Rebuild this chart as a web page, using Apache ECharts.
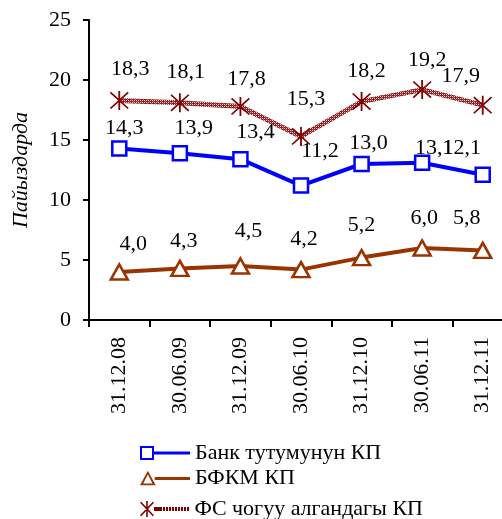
<!DOCTYPE html>
<html>
<head>
<meta charset="utf-8">
<script src="https://cdn.jsdelivr.net/npm/echarts@6/dist/echarts.min.js"></script>
<style>
html,body{margin:0;padding:0;background:#fff;}
#chart{width:502px;height:519px;}
</style>
</head>
<body>
<div id="chart"></div>
<script>
// ---- data ----
const categories = ['31.12.08','30.06.09','31.12.09','30.06.10','31.12.10','30.06.11','31.12.11'];
const seriesNames = ['Банк тутумунун КП','БФКМ КП','ФС чогуу алгандагы КП'];
const bankValues = [14.3, 13.9, 13.4, 11.2, 13.0, 13.1, 12.1];
const bfkmValues = [4.0, 4.3, 4.5, 4.2, 5.2, 6.0, 5.8];
const fsValues = [18.3, 18.1, 17.8, 15.3, 18.2, 19.2, 17.9];
const yTicks = [0, 5, 10, 15, 20, 25];
const yAxisTitle = 'Пайыздарда';

// ---- styles ----
const FONT = 'Liberation Serif';
const FS = 22;
const BLUE = '#0000ff';
const BROWN = '#993300';
const MAROON = '#800000';
const bankLabelOffsets = [[5,-20],[14,-25],[15,-27],[19,-34],[7,-21],[12,-15],[-21,-27]];
const bfkmLabelOffsets = [[14,-28],[4,-27],[8,-35],[3,-30],[0,-32],[2,-30],[-16,-32]];
const fsLabelOffsets = [[11,-31],[6,-31],[6,-27],[5,-37],[5,-30],[5,-29],[-22,-29]];

const STAR = 'path://M-0.9,-10 L0.9,-10 L0.9,10 L-0.9,10 Z M-9.4,-7.9 L-8.2,-9.1 L9.4,7.9 L8.2,9.1 Z M8.2,-9.1 L9.4,-7.9 L-8.2,9.1 L-9.4,7.9 Z';

// legend icons (50 x 16 box)
const LEG_SQUARE = 'path://M0,1 L14,1 L14,15 L0,15 Z M2,3 L2,13 L12,13 L12,3 Z M14,6.5 L50,6.5 L50,9.5 L14,9.5 Z';
const LEG_TRI = 'path://M7,0 L15,15 L-1,15 Z M7,4 L2.3,13 L11.7,13 Z M14,6.5 L50,6.5 L50,9.5 L14,9.5 Z';
let dashes = '';
for (let x = 20; x < 50; x += 3) { dashes += ' M' + x + ',6 L' + (x + 2) + ',6 L' + (x + 2) + ',10 L' + x + ',10 Z'; }
const LEG_STAR = 'path://M6.2,0 L7.8,0 L7.8,16 L6.2,16 Z M0,1.8 L1.2,0.8 L14,14.2 L12.8,15.2 Z M12.8,0.8 L14,1.8 L1.2,15.2 L0,14.2 Z M14,6 L20,6 L20,10 L14,10 Z' + dashes;

// pattern for the textured line
const pc = document.createElement('canvas');
pc.width = 4; pc.height = 4;
const pctx = pc.getContext('2d');
pctx.fillStyle = '#8b2020';
pctx.fillRect(0,0,4,4);
pctx.fillStyle = '#f0d0d0';
pctx.fillRect(0,0,1,1); pctx.fillRect(2,2,1,1); pctx.fillRect(2,0,1,1); pctx.fillRect(0,2,1,1);
pctx.fillStyle = '#b06060';
pctx.fillRect(1,1,1,1); pctx.fillRect(3,3,1,1);

function fmt(v){ return v.toFixed(1).replace('.', ','); }
function withLabels(values, offsets){
  return values.map((v, i) => ({ value: v, label: { offset: offsets[i] } }));
}
const labelBase = {
  show: true, position: 'inside', color: '#000', fontFamily: FONT, fontSize: FS,
  formatter: p => fmt(p.value)
};

const legendText = { color: '#000', fontFamily: FONT, fontSize: FS };
function legendFor(i, top, icon, color){
  return { left: 135, top: top, itemWidth: 50, itemHeight: 16, itemGap: 6, textStyle: legendText,
    icon: icon, itemStyle: { color: color, borderWidth: 0 },
    data: [{ name: seriesNames[i], icon: icon, itemStyle: { color: color, borderWidth: 0 } }] };
}

const chart = echarts.init(document.getElementById('chart'), null, { renderer: 'canvas' });
chart.setOption({
  animation: false,
  backgroundColor: '#fff',
  grid: { left: 89, top: 20, height: 300, width: 424, outerBoundsMode: 'none', containLabel: false },
  legend: [
    legendFor(0, 437, LEG_SQUARE, BLUE),
    legendFor(1, 462, LEG_TRI, BROWN),
    legendFor(2, 493, LEG_STAR, MAROON)
  ],
  xAxis: {
    type: 'category', data: categories, boundaryGap: true,
    axisLine: { lineStyle: { color: '#000', width: 2 } },
    axisTick: { show: true, length: 7, lineStyle: { color: '#000', width: 2 } },
    axisLabel: { rotate: 90, margin: 17, color: '#000', fontFamily: FONT, fontSize: FS, interval: 0 }
  },
  yAxis: {
    type: 'value', min: yTicks[0], max: yTicks[yTicks.length - 1], interval: 5,
    name: yAxisTitle, nameLocation: 'middle', nameRotate: 90, nameGap: 57,
    nameTextStyle: { color: '#000', fontFamily: FONT, fontSize: FS, fontStyle: 'italic' },
    axisLine: { show: true, lineStyle: { color: '#000', width: 2 } },
    axisTick: { show: true, length: 6, lineStyle: { color: '#000', width: 2 } },
    splitLine: { show: false },
    axisLabel: { margin: 18, color: '#000', fontFamily: FONT, fontSize: FS }
  },
  series: [
    {
      name: seriesNames[0], type: 'line', data: withLabels(bankValues, bankLabelOffsets),
      symbol: 'rect', symbolSize: 14,
      itemStyle: { color: '#fff', borderColor: BLUE, borderWidth: 2.5 },
      lineStyle: { color: BLUE, width: 4 },
      label: labelBase, z: 3
    },
    {
      name: seriesNames[1], type: 'line', data: withLabels(bfkmValues, bfkmLabelOffsets),
      symbol: 'triangle', symbolSize: [17, 15],
      itemStyle: { color: '#fff', borderColor: BROWN, borderWidth: 2.5 },
      lineStyle: { color: BROWN, width: 4 },
      label: labelBase, z: 3
    },
    {
      name: seriesNames[2], type: 'line', data: withLabels(fsValues, fsLabelOffsets),
      symbol: STAR, symbolSize: 19,
      itemStyle: { color: MAROON, borderWidth: 0 },
      lineStyle: { color: { image: pc, repeat: 'repeat' }, width: 5 },
      label: labelBase, z: 3
    }
  ]
});
</script>
</body>
</html>
